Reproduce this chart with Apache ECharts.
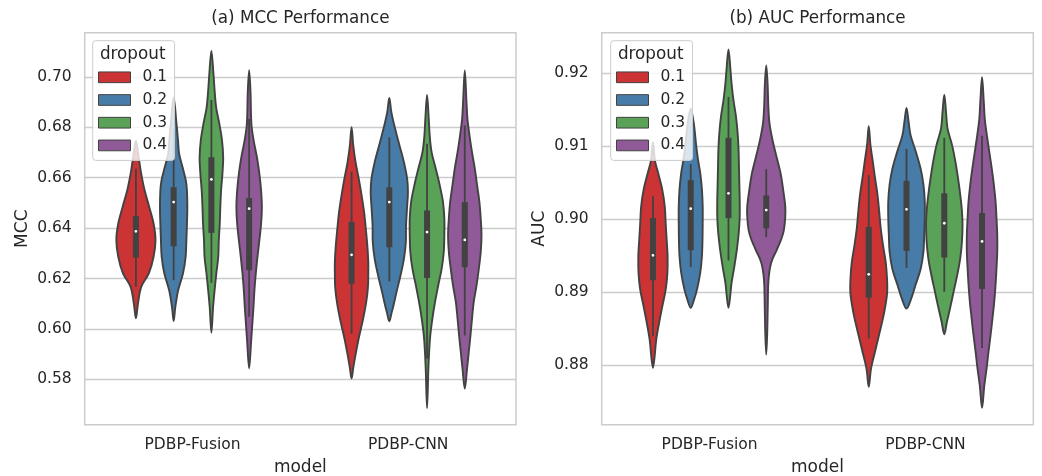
<!DOCTYPE html>
<html>
<head>
<meta charset="utf-8">
<script src="https://cdn.jsdelivr.net/npm/echarts@6/dist/echarts.min.js"></script>
<style>
  html, body { margin: 0; padding: 0; background: #fff; }
  #chart { width: 1042px; height: 476px; }
</style>
</head>
<body>
<div id="chart"></div>
<script>
  const models = ['PDBP-Fusion', 'PDBP-CNN'];
  const dropouts = ['0.1', '0.2', '0.3', '0.4'];
  const mccTicks = [0.58, 0.6, 0.62, 0.64, 0.66, 0.68, 0.7];
  const aucTicks = [0.88, 0.89, 0.9, 0.91, 0.92];

  // violin outlines: [value, density], bottom to top, one per dropout
  const mccFusion = [
    [[0.6042, 0], [0.6101, 0.11], [0.6167, 0.28], [0.622, 0.68], [0.6286, 0.93], [0.6352, 1.03], [0.6418, 0.93], [0.6484, 0.7], [0.6549, 0.46], [0.6615, 0.28], [0.6668, 0.17], [0.6747, 0]],
    [[0.6031, 0], [0.6088, 0.09], [0.6154, 0.24], [0.622, 0.49], [0.6286, 0.63], [0.6352, 0.67], [0.6417, 0.7], [0.6483, 0.72], [0.6549, 0.7], [0.6589, 0.64], [0.6641, 0.47], [0.6694, 0.29], [0.6747, 0.23], [0.6813, 0.15], [0.6918, 0]],
    [[0.5985, 0], [0.6088, 0.09], [0.6154, 0.17], [0.622, 0.26], [0.6286, 0.36], [0.6352, 0.39], [0.6417, 0.44], [0.6483, 0.47], [0.6549, 0.51], [0.6615, 0.58], [0.6681, 0.62], [0.6747, 0.56], [0.6813, 0.42], [0.6879, 0.25], [0.6945, 0.17], [0.7011, 0.11], [0.7103, 0]],
    [[0.5844, 0], [0.5956, 0.11], [0.6022, 0.17], [0.6088, 0.23], [0.6154, 0.28], [0.622, 0.35], [0.6286, 0.44], [0.6352, 0.54], [0.6417, 0.63], [0.6483, 0.67], [0.6549, 0.63], [0.6615, 0.54], [0.6681, 0.41], [0.6747, 0.24], [0.6813, 0.12], [0.6945, 0.07], [0.7026, 0]]
  ];
  const mccCnn = [
    [[0.5803, 0], [0.5846, 0.09], [0.5898, 0.21], [0.5964, 0.38], [0.603, 0.58], [0.6096, 0.75], [0.6163, 0.86], [0.6225, 0.88], [0.6265, 0.88], [0.6331, 0.83], [0.6397, 0.75], [0.6463, 0.66], [0.6529, 0.53], [0.6595, 0.38], [0.6661, 0.21], [0.6727, 0.09], [0.68, 0]],
    [[0.603, 0], [0.6067, 0.13], [0.6093, 0.22], [0.6146, 0.38], [0.6212, 0.59], [0.6278, 0.77], [0.6344, 0.87], [0.641, 0.88], [0.6476, 0.93], [0.6542, 0.98], [0.6595, 0.94], [0.6661, 0.77], [0.6727, 0.54], [0.6793, 0.31], [0.6859, 0.11], [0.6916, 0]],
    [[0.5686, 0], [0.5842, 0.07], [0.5908, 0.11], [0.5974, 0.17], [0.604, 0.28], [0.6106, 0.42], [0.6173, 0.59], [0.6239, 0.77], [0.6305, 0.88], [0.6371, 0.91], [0.6437, 0.91], [0.6503, 0.84], [0.6569, 0.67], [0.6635, 0.46], [0.6701, 0.24], [0.6767, 0.14], [0.6833, 0.09], [0.6928, 0]],
    [[0.5763, 0], [0.5842, 0.12], [0.5908, 0.21], [0.5974, 0.3], [0.604, 0.38], [0.6106, 0.47], [0.6173, 0.62], [0.6239, 0.74], [0.6305, 0.84], [0.6371, 0.88], [0.6437, 0.84], [0.6503, 0.77], [0.6569, 0.65], [0.6635, 0.53], [0.6701, 0.38], [0.6767, 0.25], [0.6833, 0.14], [0.6899, 0.09], [0.7025, 0]]
  ];
  const aucFusion = [
    [[0.8796, 0], [0.8812, 0.09], [0.8834, 0.17], [0.8857, 0.32], [0.888, 0.49], [0.8903, 0.67], [0.8926, 0.76], [0.8949, 0.77], [0.8972, 0.72], [0.8994, 0.67], [0.9017, 0.62], [0.904, 0.49], [0.9063, 0.27], [0.9079, 0.11], [0.9105, 0]],
    [[0.8878, 0], [0.8889, 0.17], [0.8903, 0.33], [0.8926, 0.5], [0.8949, 0.59], [0.8972, 0.62], [0.8994, 0.63], [0.9017, 0.63], [0.904, 0.59], [0.9063, 0.5], [0.908, 0.39], [0.91, 0.29], [0.9131, 0.16], [0.9151, 0]],
    [[0.8878, 0], [0.8894, 0.09], [0.8912, 0.16], [0.8935, 0.31], [0.8958, 0.44], [0.8981, 0.54], [0.9003, 0.59], [0.9026, 0.59], [0.9049, 0.57], [0.9072, 0.55], [0.9095, 0.53], [0.9118, 0.48], [0.9141, 0.39], [0.9163, 0.26], [0.9186, 0.16], [0.9209, 0.09], [0.9232, 0]],
    [[0.8814, 0], [0.8843, 0.05], [0.888, 0.08], [0.8917, 0.12], [0.894, 0.26], [0.8958, 0.56], [0.8972, 0.79], [0.8985, 0.93], [0.9003, 1.0], [0.9017, 1.0], [0.904, 0.89], [0.9063, 0.75], [0.9086, 0.53], [0.9109, 0.32], [0.9131, 0.17], [0.9154, 0.11], [0.9186, 0.07], [0.921, 0]]
  ];
  const aucCnn = [
    [[0.877, 0], [0.8795, 0.12], [0.8818, 0.33], [0.8841, 0.54], [0.8864, 0.75], [0.8882, 0.88], [0.89, 0.97], [0.8919, 0.96], [0.8941, 0.89], [0.8964, 0.75], [0.8987, 0.63], [0.901, 0.55], [0.9033, 0.46], [0.9056, 0.33], [0.9079, 0.21], [0.9101, 0.09], [0.9127, 0]],
    [[0.8877, 0], [0.8891, 0.25], [0.8909, 0.47], [0.8932, 0.75], [0.8955, 0.89], [0.8978, 0.93], [0.9001, 0.96], [0.9024, 0.96], [0.9047, 0.89], [0.9069, 0.74], [0.9092, 0.49], [0.9115, 0.21], [0.9133, 0.11], [0.9152, 0]],
    [[0.8842, 0], [0.8859, 0.14], [0.8877, 0.3], [0.89, 0.49], [0.8923, 0.68], [0.8946, 0.84], [0.8969, 0.93], [0.8992, 0.96], [0.901, 0.93], [0.9033, 0.84], [0.9056, 0.72], [0.9079, 0.58], [0.9101, 0.41], [0.9124, 0.17], [0.9147, 0.09], [0.917, 0]],
    [[0.8741, 0], [0.8772, 0.12], [0.8795, 0.24], [0.8818, 0.34], [0.8841, 0.45], [0.8864, 0.55], [0.8886, 0.64], [0.8909, 0.71], [0.8932, 0.76], [0.8955, 0.8], [0.8978, 0.8], [0.9001, 0.76], [0.9024, 0.71], [0.9047, 0.62], [0.9069, 0.51], [0.9092, 0.38], [0.9115, 0.25], [0.9138, 0.14], [0.9161, 0.09], [0.9194, 0]]
  ];

  // inner box: [lower whisker, q1, median, q3, upper whisker]
  const mccFusionBox = [[0.6167, 0.6283, 0.6387, 0.6448, 0.6635], [0.6193, 0.6328, 0.6503, 0.6562, 0.679], [0.6183, 0.6381, 0.6593, 0.6681, 0.6908], [0.6048, 0.6233, 0.6477, 0.6519, 0.6833]];
  const mccCnnBox = [[0.5981, 0.6179, 0.6294, 0.6424, 0.6624], [0.6188, 0.6324, 0.6503, 0.6562, 0.676], [0.5882, 0.6202, 0.6384, 0.647, 0.6734], [0.5974, 0.6245, 0.6353, 0.6503, 0.6807]];
  const aucFusionBox = [[0.8839, 0.8916, 0.895, 0.9001, 0.9031], [0.8934, 0.8957, 0.9014, 0.9053, 0.9075], [0.8943, 0.9001, 0.9035, 0.9111, 0.9167], [0.8975, 0.8987, 0.9012, 0.9032, 0.9068]];
  const aucCnnBox = [[0.8836, 0.8892, 0.8924, 0.8989, 0.906], [0.8933, 0.8956, 0.9013, 0.9052, 0.9096], [0.89, 0.8947, 0.8994, 0.9035, 0.9111], [0.8823, 0.8904, 0.8969, 0.9008, 0.9114]];

  const FONT = 'DejaVu Sans';
  const TEXT = '#262626';
  const GRID = '#cccccc';
  const EDGE = '#424242';
  const fills = ['#cb3335', '#477ca8', '#59a257', '#905998'];
  const HUE_STEP = 0.175;  // distance between dodged violins (band units)
  const HALF_W = 0.0881;   // half width of a violin at density 1 (band units)

  const panels = [
    { name: 'MCC', title: '(a) MCC Performance', ticks: mccTicks, min: 0.562, max: 0.7175, split: 8,
      violins: [mccFusion, mccCnn], boxes: [mccFusionBox, mccCnnBox],
      left: 84.7, width: 431.3, legendLeft: 92.7 },
    { name: 'AUC', title: '(b) AUC Performance', ticks: aucTicks, min: 0.8718, max: 0.9255, split: 5,
      violins: [aucFusion, aucCnn], boxes: [aucFusionBox, aucCnnBox],
      left: 601.7, width: 431.6, legendLeft: 610.7 }
  ];
  const GRID_TOP = 32.7;
  const GRID_H = 392;

  const makeRender = (panel, hue) => (params, api) => {
    const c = params.dataIndex;
    const prof = panel.violins[c][hue];
    const box = panel.boxes[c][hue];
    const band = api.size([1, 0])[0];
    const cx = api.coord([c, box[2]])[0] + (hue - 1.5) * HUE_STEP * band;
    const py = (v) => api.coord([c, v])[1];
    const pts = [];
    prof.forEach(([v, d]) => pts.push([cx - d * HALF_W * band, py(v)]));
    for (let i = prof.length - 2; i > 0; i--) {
      pts.push([cx + prof[i][1] * HALF_W * band, py(prof[i][0])]);
    }
    return {
      type: 'group',
      children: [
        { type: 'polygon', shape: { points: pts, smooth: 0.35 },
          style: { fill: fills[hue], stroke: EDGE, lineWidth: 1.9 } },
        { type: 'line', shape: { x1: cx, y1: py(box[0]), x2: cx, y2: py(box[4]) },
          style: { stroke: EDGE, lineWidth: 1.8 } },
        { type: 'line', shape: { x1: cx, y1: py(box[1]), x2: cx, y2: py(box[3]) },
          style: { stroke: EDGE, lineWidth: 6 } },
        { type: 'circle', shape: { cx: cx, cy: py(box[2]), r: 1.4 },
          style: { fill: '#ffffff' } }
      ]
    };
  };

  const grid = [], xAxis = [], yAxis = [], series = [], legend = [], title = [];

  panels.forEach((p, pi) => {
    grid.push({
      left: p.left, top: GRID_TOP, width: p.width, height: GRID_H,
      outerBoundsMode: 'none', containLabel: false,
      show: true, borderColor: GRID, borderWidth: 1.5, backgroundColor: '#ffffff'
    });
    xAxis.push({
      type: 'category', gridIndex: pi, data: models,
      axisLine: { show: false }, axisTick: { show: false }, splitLine: { show: false },
      axisLabel: { color: TEXT, fontSize: 15.5, fontFamily: FONT, margin: 12 },
      name: 'model', nameLocation: 'middle', nameGap: 34,
      nameTextStyle: { color: TEXT, fontSize: 17, fontFamily: FONT }
    });
    yAxis.push({
      type: 'value', gridIndex: pi, min: p.min, max: p.max, splitNumber: p.split,
      axisLine: { show: false },
      axisTick: { show: false, customValues: p.ticks },
      axisLabel: { customValues: p.ticks, formatter: (v) => v.toFixed(2),
        color: TEXT, fontSize: 15.5, fontFamily: FONT, margin: 13 },
      splitLine: { lineStyle: { color: GRID, width: 1.3 } },
      name: p.name, nameLocation: 'middle', nameGap: 54,
      nameTextStyle: { color: TEXT, fontSize: 17, fontFamily: FONT }
    });
    dropouts.forEach((d, h) => {
      series.push({
        type: 'custom', name: d, xAxisIndex: pi, yAxisIndex: pi,
        itemStyle: { color: fills[h] },
        data: models.map((m, c) => [c, p.boxes[c][h][2]]),
        renderItem: makeRender(p, h),
        z: 2
      });
    });
    legend.push({
      left: p.legendLeft, top: 40.7, orient: 'vertical',
      padding: [28.6, 7.4, 7, 5.3],
      backgroundColor: 'rgba(255,255,255,0.8)', borderColor: GRID, borderWidth: 1, borderRadius: 3,
      itemWidth: 32, itemHeight: 10.7, itemGap: 6.7, icon: 'rect',
      selectedMode: false, z: 10,
      textStyle: { color: TEXT, fontSize: 15.5, fontFamily: FONT, lineHeight: 16, padding: [0, 0, 0, 7] },
      data: dropouts.map((d, h) => ({ name: d, itemStyle: { color: fills[h], borderColor: EDGE, borderWidth: 1 } }))
    });
    title.push({
      text: p.title, left: p.left + p.width / 2, top: 9, textAlign: 'center', padding: 0,
      textStyle: { color: TEXT, fontSize: 16.8, fontWeight: 'normal', fontFamily: FONT, lineHeight: 20 }
    });
    title.push({
      text: 'dropout', left: p.legendLeft + 40, top: 45.5, textAlign: 'center', padding: 0, z: 12,
      textStyle: { color: TEXT, fontSize: 16.8, fontWeight: 'normal', fontFamily: FONT, lineHeight: 18 }
    });
  });

  const chart = echarts.init(document.getElementById('chart'), null, { renderer: 'canvas' });
  chart.setOption({
    backgroundColor: '#ffffff',
    animation: false,
    title, grid, xAxis, yAxis, legend, series
  });
</script>
</body>
</html>
